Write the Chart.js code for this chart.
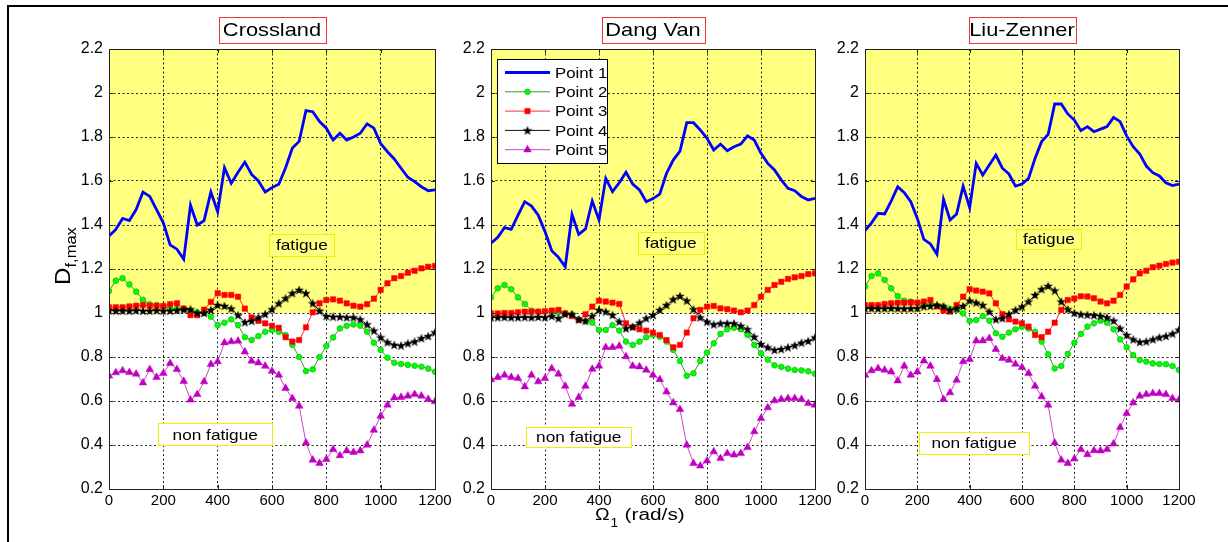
<!DOCTYPE html>
<html>
<head>
<meta charset="utf-8">
<script src="https://cdn.jsdelivr.net/npm/chart.js@4.4.1/dist/chart.umd.min.js"></script>
<style>
html,body{margin:0;padding:0;background:#fff;}
body{width:1228px;height:542px;position:relative;overflow:hidden;}
#frameTop{position:absolute;left:7px;top:5px;width:1221px;height:2px;background:#000;}
#frameLeft{position:absolute;left:7px;top:5px;width:2px;height:537px;background:#000;}
canvas{position:absolute;top:0;}
</style>
</head>
<body>
<div id="frameTop"></div><div id="frameLeft"></div>
<canvas id="c1" style="left:0px" width="460" height="542"></canvas>
<canvas id="c2" style="left:445px" width="392" height="542"></canvas>
<canvas id="c3" style="left:825px" width="403" height="542"></canvas>
<script>
// ---------- data ----------
const omega = [0,25,50,75,100,125,150,175,200,225,250,275,300,325,350,375,400,425,450,475,500,525,550,575,600,625,650,675,700,725,750,775,800,825,850,875,900,925,950,975,1000,1025,1050,1075,1100,1125,1150,1175,1200];
const xTicks = [0,200,400,600,800,1000,1200];
const yTicks = [0.2,0.4,0.6,0.8,1.0,1.2,1.4,1.6,1.8,2.0,2.2];
const panelTitles = ['Crossland','Dang Van','Liu-Zenner'];
const seriesNames = ['Point 1','Point 2','Point 3','Point 4','Point 5'];
const fatigueThreshold = 1.0;

// Crossland
const crossland_p1 = [1.35,1.38,1.43,1.42,1.47,1.55,1.53,1.47,1.41,1.31,1.29,1.245,1.49,1.40,1.42,1.55,1.46,1.66,1.59,1.64,1.686,1.63,1.60,1.55,1.57,1.585,1.66,1.75,1.78,1.92,1.915,1.87,1.84,1.786,1.817,1.786,1.80,1.817,1.86,1.84,1.77,1.733,1.70,1.658,1.617,1.597,1.574,1.556,1.56];
const crossland_p2 = [1.10,1.147,1.158,1.13,1.097,1.06,1.04,1.036,1.03,1.02,1.018,1.014,1.01,1.003,1.0,0.983,0.945,0.956,0.971,0.945,0.89,0.877,0.895,0.915,0.923,0.915,0.9,0.855,0.80,0.736,0.744,0.80,0.85,0.889,0.93,0.942,0.948,0.942,0.915,0.865,0.832,0.797,0.774,0.768,0.764,0.76,0.756,0.747,0.733];
const crossland_p3 = [1.026,1.026,1.026,1.03,1.033,1.036,1.033,1.033,1.032,1.04,1.044,1.02,0.99,0.99,1.015,1.05,1.09,1.082,1.082,1.074,1.02,0.98,0.964,0.953,0.942,0.933,0.89,0.87,0.877,0.935,1.003,1.044,1.059,1.062,1.056,1.044,1.033,1.029,1.04,1.065,1.105,1.135,1.158,1.168,1.183,1.192,1.203,1.21,1.214];
const crossland_p4 = [1.012,1.01,1.01,1.01,1.012,1.01,1.01,1.012,1.01,1.01,1.013,1.017,1.017,1.0,1.0,1.014,1.036,1.032,1.02,0.99,0.958,0.964,0.98,0.995,1.017,1.044,1.067,1.09,1.105,1.09,1.044,1.01,0.986,0.983,0.983,0.98,0.98,0.971,0.948,0.92,0.889,0.867,0.855,0.852,0.862,0.87,0.885,0.895,0.912];
const crossland_p5 = [0.714,0.729,0.738,0.73,0.723,0.683,0.744,0.708,0.726,0.771,0.744,0.69,0.605,0.63,0.688,0.767,0.779,0.865,0.87,0.873,0.824,0.782,0.774,0.759,0.736,0.718,0.658,0.612,0.577,0.41,0.332,0.317,0.335,0.38,0.352,0.374,0.367,0.374,0.4,0.468,0.532,0.582,0.615,0.617,0.623,0.63,0.623,0.608,0.597];

// Dang Van
const dangvan_p1 = [1.317,1.344,1.388,1.38,1.445,1.506,1.486,1.445,1.37,1.283,1.253,1.21,1.448,1.357,1.382,1.509,1.423,1.612,1.552,1.592,1.64,1.586,1.559,1.506,1.52,1.54,1.635,1.695,1.736,1.865,1.865,1.832,1.794,1.741,1.768,1.738,1.756,1.768,1.805,1.786,1.726,1.68,1.65,1.605,1.567,1.556,1.529,1.514,1.521];
const dangvan_p2 = [1.071,1.112,1.127,1.108,1.071,1.041,1.011,1.006,1.006,1.003,1.003,0.998,0.994,0.971,0.961,0.956,0.923,0.923,0.945,0.92,0.87,0.855,0.87,0.89,0.9,0.892,0.87,0.832,0.782,0.715,0.726,0.782,0.82,0.862,0.905,0.926,0.933,0.926,0.9,0.855,0.817,0.788,0.762,0.755,0.747,0.741,0.739,0.735,0.724];
const dangvan_p3 = [0.998,0.998,1.0,1.0,1.003,1.006,1.006,1.006,1.008,1.011,1.014,0.998,0.986,0.968,0.994,1.029,1.056,1.052,1.047,1.041,0.953,0.935,0.926,0.92,0.911,0.9,0.877,0.844,0.855,0.911,0.976,1.014,1.029,1.032,1.021,1.017,1.011,1.003,1.011,1.036,1.074,1.105,1.127,1.142,1.155,1.162,1.168,1.177,1.18];
const dangvan_p4 = [0.98,0.98,0.981,0.98,0.98,0.981,0.98,0.982,0.98,0.986,0.976,0.995,0.994,0.971,0.965,0.986,1.014,1.006,0.991,0.961,0.93,0.938,0.956,0.976,0.991,1.014,1.036,1.062,1.077,1.056,1.017,0.98,0.961,0.948,0.953,0.953,0.953,0.942,0.926,0.892,0.859,0.844,0.832,0.836,0.844,0.853,0.865,0.873,0.889];
const dangvan_p5 = [0.698,0.708,0.718,0.708,0.703,0.665,0.718,0.688,0.703,0.748,0.723,0.668,0.586,0.617,0.668,0.745,0.759,0.844,0.844,0.85,0.802,0.759,0.756,0.741,0.718,0.698,0.642,0.592,0.562,0.4,0.317,0.305,0.328,0.37,0.339,0.362,0.355,0.362,0.389,0.461,0.521,0.57,0.602,0.608,0.612,0.612,0.608,0.589,0.582];

// Liu-Zenner
const liuzenner_p1 = [1.374,1.41,1.453,1.45,1.509,1.574,1.547,1.506,1.43,1.335,1.314,1.267,1.517,1.423,1.45,1.577,1.479,1.68,1.627,1.673,1.718,1.658,1.632,1.577,1.586,1.612,1.703,1.779,1.812,1.95,1.95,1.905,1.877,1.829,1.847,1.824,1.836,1.847,1.889,1.87,1.805,1.756,1.723,1.668,1.638,1.623,1.592,1.579,1.586];
const liuzenner_p2 = [1.12,1.168,1.18,1.15,1.112,1.077,1.056,1.052,1.047,1.041,1.039,1.033,1.029,1.018,1.014,0.998,0.964,0.968,0.986,0.965,0.908,0.892,0.911,0.926,0.938,0.93,0.915,0.87,0.812,0.748,0.759,0.814,0.865,0.905,0.938,0.953,0.965,0.956,0.926,0.88,0.844,0.809,0.786,0.779,0.771,0.768,0.767,0.759,0.741];
const liuzenner_p3 = [1.036,1.036,1.036,1.041,1.044,1.047,1.047,1.048,1.047,1.052,1.059,1.03,1.011,1.006,1.036,1.074,1.108,1.102,1.097,1.089,1.044,0.995,0.971,0.961,0.953,0.938,0.9,0.89,0.915,0.956,1.014,1.059,1.066,1.076,1.075,1.067,1.052,1.044,1.056,1.082,1.12,1.153,1.18,1.192,1.208,1.215,1.223,1.229,1.233];
const liuzenner_p4 = [1.021,1.021,1.02,1.021,1.022,1.021,1.02,1.021,1.022,1.03,1.032,1.036,1.03,1.014,1.021,1.032,1.056,1.047,1.036,1.006,0.971,0.976,0.995,1.014,1.029,1.052,1.082,1.108,1.123,1.102,1.052,1.017,1.0,0.994,0.992,0.99,0.987,0.98,0.965,0.93,0.9,0.88,0.868,0.871,0.88,0.889,0.895,0.906,0.924];
const liuzenner_p5 = [0.718,0.738,0.748,0.741,0.733,0.692,0.759,0.718,0.733,0.783,0.759,0.698,0.608,0.638,0.695,0.779,0.789,0.874,0.874,0.885,0.835,0.794,0.786,0.768,0.753,0.726,0.668,0.62,0.582,0.41,0.332,0.317,0.337,0.38,0.357,0.375,0.374,0.38,0.406,0.48,0.544,0.592,0.623,0.63,0.635,0.635,0.63,0.612,0.605];

// ---------- styling / drawing ----------
const FONT = '"Liberation Sans", Arial, Helvetica, sans-serif';
const SX = 1.15;
Chart.defaults.font.family = FONT;

function starImage(size, color){
  const c = document.createElement('canvas');
  c.width = size; c.height = size;
  const g = c.getContext('2d');
  g.fillStyle = color;
  g.beginPath();
  const cx = size/2, cy = size/2 + 0.4, R = size/2, r = R*0.42;
  for (let k = 0; k < 10; k++) {
    const a = -Math.PI/2 + k*Math.PI/5;
    const rr = (k % 2) ? r : R;
    g.lineTo(cx + rr*Math.cos(a), cy + rr*Math.sin(a));
  }
  g.closePath(); g.fill();
  return c;
}
const STAR = starImage(10, '#000');

const seriesStyles = [
  {borderColor:'#0000ff', borderWidth:2.8, pointRadius:0, pointStyle:false},
  {borderColor:'rgb(40,160,40)', borderWidth:1, pointStyle:'circle', pointRadius:2.8, pointBackgroundColor:'#00ff00', pointBorderColor:'#10c010', pointBorderWidth:0.8},
  {borderColor:'#ff2a2a', borderWidth:1, pointStyle:'rect', pointRadius:3.8, pointBackgroundColor:'#ff0000', pointBorderColor:'#ff0000', pointBorderWidth:0.5},
  {borderColor:'#111', borderWidth:1, pointStyle:STAR, pointRadius:4, pointBackgroundColor:'#000', pointBorderColor:'#000'},
  {borderColor:'rgb(200,70,200)', borderWidth:1, pointStyle:'triangle', pointRadius:4.4, pointBackgroundColor:'#c000c0', pointBorderColor:'#c000c0', pointBorderWidth:0.5}
];

function stretchedText(ctx, text, x, y, size, align, baseline, sx){
  sx = sx || SX;
  ctx.save();
  ctx.font = size + 'px ' + FONT;
  const w = ctx.measureText(text).width * sx;
  const x0 = align === 'center' ? x - w/2 : (align === 'right' ? x - w : x);
  ctx.translate(x0, y);
  ctx.scale(sx, 1);
  ctx.textAlign = 'left';
  ctx.textBaseline = baseline || 'middle';
  ctx.fillStyle = '#000';
  ctx.fillText(text, 0, 0);
  ctx.restore();
  return w;
}

function makeDecor(cfg){
  return {
    id: 'decor',
    beforeDraw(chart){
      const {ctx, chartArea:a, scales} = chart;
      const y1 = scales.y.getPixelForValue(fatigueThreshold);
      ctx.save();
      ctx.fillStyle = '#ffff80';
      ctx.fillRect(a.left, a.top, a.right - a.left, y1 - a.top);
      ctx.restore();
    },
    afterDatasetsDraw(chart){
      const {ctx, chartArea:a, scales} = chart;
      ctx.save();
      // plot box
      ctx.strokeStyle = '#222'; ctx.lineWidth = 1;
      ctx.strokeRect(Math.round(a.left)+0.5, Math.round(a.top)+0.5, Math.round(a.right-a.left), Math.round(a.bottom-a.top));
      // inward tick marks
      ctx.beginPath();
      xTicks.forEach(v => {
        const px = Math.round(scales.x.getPixelForValue(v)) + 0.5;
        ctx.moveTo(px, a.bottom); ctx.lineTo(px, a.bottom - 4);
        ctx.moveTo(px, a.top); ctx.lineTo(px, a.top + 4);
      });
      yTicks.forEach(v => {
        const py = Math.round(scales.y.getPixelForValue(v)) + 0.5;
        ctx.moveTo(a.left, py); ctx.lineTo(a.left + 4, py);
        ctx.moveTo(a.right, py); ctx.lineTo(a.right - 4, py);
      });
      ctx.stroke();

      // region labels
      cfg.labels.forEach(L => {
        const cx = scales.x.getPixelForValue(L.x);
        const cy = scales.y.getPixelForValue(L.y);
        ctx.fillStyle = L.bg;
        ctx.fillRect(cx - L.w/2, cy - L.h/2, L.w, L.h);
        ctx.strokeStyle = '#f0f000'; ctx.lineWidth = 1;
        ctx.strokeRect(Math.round(cx - L.w/2)+0.5, Math.round(cy - L.h/2)+0.5, L.w, L.h);
        stretchedText(ctx, L.text, cx, cy + 1, 15, 'center', 'middle');
      });

      // panel title with red box
      const tcx = (a.left + a.right)/2;
      ctx.fillStyle = '#fff';
      ctx.fillRect(tcx - cfg.titleW/2, 17, cfg.titleW, 26);
      ctx.strokeStyle = '#ee3333'; ctx.lineWidth = 1;
      ctx.strokeRect(Math.round(tcx - cfg.titleW/2)+0.5, 17.5, cfg.titleW, 26);
      stretchedText(ctx, cfg.title, tcx, 31, 18.5, 'center', 'middle', 1.18);

      // legend
      if (cfg.legend) {
        const lx = a.left + 6, ly = a.top + 10, lw = 110, lh = 104;
        ctx.fillStyle = '#fff';
        ctx.fillRect(lx, ly, lw, lh);
        ctx.strokeStyle = '#000'; ctx.lineWidth = 1;
        ctx.strokeRect(Math.round(lx)+0.5, Math.round(ly)+0.5, lw, lh);
        chart.data.datasets.forEach((ds, i) => {
          const ry = ly + 13.5 + i*19.3;
          ctx.strokeStyle = ds.borderColor; ctx.lineWidth = ds.borderWidth;
          ctx.beginPath(); ctx.moveTo(lx + 8, ry); ctx.lineTo(lx + 53, ry); ctx.stroke();
          if (ds.pointStyle) {
            ctx.fillStyle = ds.pointBackgroundColor; ctx.strokeStyle = ds.pointBorderColor;
            ctx.lineWidth = ds.pointBorderWidth || 0.5;
            Chart.helpers.drawPoint(ctx, {pointStyle: ds.pointStyle, radius: ds.pointRadius, rotation: 0, borderWidth: ds.pointBorderWidth || 0.5}, lx + 30.5, ry);
          }
          stretchedText(ctx, ds.label, lx + 58, ry + 1, 15, 'left', 'middle', 1.12);
        });
      }

      // y axis title
      if (cfg.yTitle) {
        ctx.save();
        ctx.translate(70, 285);
        ctx.rotate(-Math.PI/2);
        ctx.fillStyle = '#000';
        ctx.textBaseline = 'alphabetic';
        ctx.font = '22px ' + FONT;
        ctx.save(); ctx.scale(1.1, 1); ctx.fillText('D', 0, 0); ctx.restore();
        const dw = ctx.measureText('D').width * 1.1;
        ctx.font = '15px ' + FONT;
        ctx.save(); ctx.translate(dw, 6); ctx.scale(1.1, 1); ctx.fillText('f,max', 0, 0); ctx.restore();
        ctx.restore();
      }

      // x axis title
      if (cfg.xTitle) {
        const x0 = a.left + 104;
        let w = stretchedText(ctx, '\u03A9', x0, 520, 17, 'left', 'alphabetic', 1.15);
        stretchedText(ctx, '1', x0 + w + 1, 527, 12, 'left', 'alphabetic', 1.15);
        stretchedText(ctx, '(rad/s)', x0 + w + 15, 520, 16, 'left', 'alphabetic', 1.3);
      }
      ctx.restore();
    }
  };
}

function makePanel(canvasId, title, series, layout, cfg){
  const datasets = series.map((vals, i) => Object.assign({
    label: seriesNames[i],
    data: omega.map((x, k) => ({x: x, y: vals[k]})),
    tension: 0,
    fill: false,
    order: i === 0 ? 5 : 4 - i
  }, seriesStyles[i]));
  cfg.title = title;
  return new Chart(document.getElementById(canvasId), {
    type: 'line',
    data: {datasets},
    options: {
      responsive: false,
      animation: false,
      events: [],
      layout: {padding: {left: 0, right: layout.padRight, top: 49, bottom: 0}},
      plugins: {legend: {display: false}, tooltip: {enabled: false}, title: {display: false}},
      scales: {
        x: {
          type: 'linear', min: 0, max: 1200,
          afterBuildTicks: s => { s.ticks = xTicks.map(v => ({value: v})); },
          afterFit: s => { s.height = 53; s.paddingLeft = 0; s.paddingRight = 0; },
          ticks: {color: '#000', font: {size: 15}, padding: 3, maxRotation: 0, autoSkip: false,
                  callback: v => String(v)},
          grid: {color: 'rgba(0,0,0,0.85)', lineWidth: 1, drawTicks: false},
          border: {display: false, dash: [2, 2.5]}
        },
        y: {
          type: 'linear', min: 0.2, max: 2.2,
          afterBuildTicks: s => { s.ticks = yTicks.map(v => ({value: v})); },
          afterFit: s => { s.width = layout.yWidth; s.paddingTop = 0; s.paddingBottom = 0; },
          ticks: {color: '#000', font: {size: 16}, padding: 6,
                  callback: v => String(Math.round(v*10)/10)},
          grid: {color: 'rgba(0,0,0,0.85)', lineWidth: 1, drawTicks: false},
          border: {display: false, dash: [2, 2.5]}
        }
      }
    },
    plugins: [makeDecor(cfg)]
  });
}

makePanel('c1', panelTitles[0], [crossland_p1, crossland_p2, crossland_p3, crossland_p4, crossland_p5],
  {yWidth: 109, padRight: 25},
  {titleW: 107, yTitle: true, xTitle: false, legend: false,
   labels: [{text:'fatigue', x:710, y:1.31, w:65, h:22, bg:'#ffff80'},
            {text:'non fatigue', x:391, y:0.448, w:114, h:22, bg:'#ffffff'}]});
makePanel('c2', panelTitles[1], [dangvan_p1, dangvan_p2, dangvan_p3, dangvan_p4, dangvan_p5],
  {yWidth: 46, padRight: 22},
  {titleW: 103, yTitle: false, xTitle: true, legend: true,
   labels: [{text:'fatigue', x:666, y:1.319, w:66, h:22, bg:'#ffff80'},
            {text:'non fatigue', x:325, y:0.435, w:105, h:20, bg:'#ffffff'}]});
makePanel('c3', panelTitles[2], [liuzenner_p1, liuzenner_p2, liuzenner_p3, liuzenner_p4, liuzenner_p5],
  {yWidth: 40, padRight: 49},
  {titleW: 107, yTitle: false, xTitle: false, legend: false,
   labels: [{text:'fatigue', x:703, y:1.337, w:65, h:20, bg:'#ffff80'},
            {text:'non fatigue', x:417, y:0.408, w:110, h:22, bg:'#ffffff'}]});
</script>
</body>
</html>
